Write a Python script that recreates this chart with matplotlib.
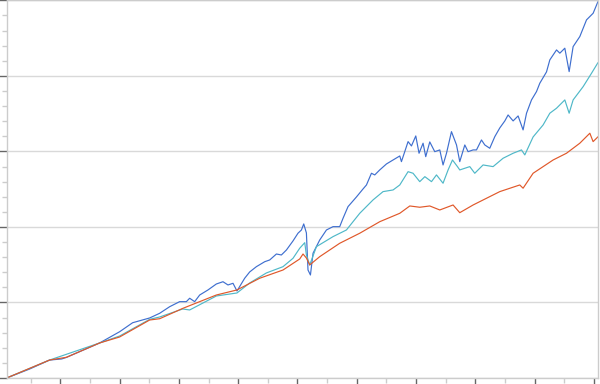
import matplotlib
matplotlib.use("Agg")
import matplotlib.pyplot as plt
from matplotlib.ticker import MultipleLocator, NullFormatter

# x in decimal years, y in chart units (gridline every 100)
blue_t = [2015.094, 2015.482, 2015.819, 2016.022, 2016.101, 2016.663, 2017.001, 2017.220,
          2017.507, 2017.676, 2017.844, 2018.013, 2018.126, 2018.182, 2018.266, 2018.351,
          2018.491, 2018.632, 2018.744, 2018.828, 2018.913, 2018.980, 2019.110, 2019.194,
          2019.307, 2019.448, 2019.532, 2019.645, 2019.729, 2019.814, 2019.925, 2020.009,
          2020.067, 2020.106, 2020.151, 2020.178, 2020.219, 2020.263, 2020.376, 2020.489,
          2020.600, 2020.713, 2020.769, 2020.853, 2020.995, 2021.106, 2021.164, 2021.248,
          2021.304, 2021.388, 2021.501, 2021.613, 2021.726, 2021.754, 2021.810, 2021.866,
          2021.923, 2021.996, 2022.051, 2022.119, 2022.164, 2022.232, 2022.316, 2022.401,
          2022.456, 2022.514, 2022.598, 2022.683, 2022.738, 2022.823, 2022.878, 2022.963,
          2023.020, 2023.104, 2023.160, 2023.244, 2023.329, 2023.413, 2023.498, 2023.553,
          2023.638, 2023.722, 2023.806, 2023.864, 2023.948, 2024.032, 2024.088, 2024.201,
          2024.257, 2024.370, 2024.426, 2024.510, 2024.583, 2024.650, 2024.763, 2024.876,
          2024.988, 2025.067]
blue_v = [0, 11.9, 23.8, 25.2, 27.2, 46.4, 61.3, 73.2,
          79.5, 85.7, 94.4, 101.1, 101.1, 105.6, 101.1, 109.9,
          116.6, 124.5, 127.5, 123.2, 125.4, 115.2, 132.1, 140.4,
          147.4, 154.0, 156.3, 164.2, 162.9, 169.5, 181.5, 191.7,
          196.0, 204.0, 192.1, 143.0, 136.4, 165.2, 182.8, 196.0,
          200.4, 200.4, 211.5, 226.9, 239.7, 250.3, 255.6, 271.1,
          268.9, 275.5, 283.4, 288.7, 294.0, 286.5, 299.7, 313.0,
          307.3, 320.5, 297.6, 310.9, 293.1, 312.6, 299.7, 302.0,
          282.1, 297.6, 326.2, 308.6, 286.5, 308.6, 299.7, 302.0,
          302.0, 315.2, 308.6, 304.2, 319.6, 331.1, 340.4, 348.3,
          340.4, 347.0, 328.5, 350.6, 368.2, 379.2, 390.3, 405.3,
          421.2, 434.4, 430.1, 436.7, 405.7, 438.8, 452.1, 474.2,
          483.0, 498.0]

teal_t = [2015.094, 2015.819, 2016.663, 2017.001, 2017.507, 2017.676, 2018.064, 2018.182,
          2018.632, 2018.980, 2019.194, 2019.476, 2019.756, 2019.925, 2020.038, 2020.123,
          2020.151, 2020.207, 2020.320, 2020.600, 2020.826, 2021.051, 2021.275, 2021.444,
          2021.613, 2021.726, 2021.866, 2021.950, 2022.063, 2022.149, 2022.261, 2022.345,
          2022.456, 2022.541, 2022.615, 2022.699, 2022.738, 2022.907, 2022.991, 2023.131,
          2023.300, 2023.469, 2023.638, 2023.779, 2023.835, 2023.975, 2024.144, 2024.257,
          2024.370, 2024.510, 2024.583, 2024.650, 2024.819, 2024.961, 2025.067]
teal_v = [0, 23.8, 46.4, 55.6, 77.7, 80.8, 91.4, 90.1,
          108.6, 112.6, 125.8, 139.1, 147.4, 158.5, 171.8, 179.2,
          162.9, 149.7, 173.9, 187.2, 196.0, 218.1, 235.8, 246.8,
          249.0, 255.6, 273.2, 271.1, 260.0, 266.6, 260.0, 268.9,
          257.9, 275.5, 288.7, 279.9, 275.5, 279.9, 271.1, 282.1,
          279.9, 291.0, 297.6, 302.0, 295.4, 319.2, 335.1, 350.6,
          357.2, 368.2, 350.6, 368.2, 385.8, 403.6, 417.3]

orange_t = [2015.094, 2015.819, 2016.101, 2016.663, 2017.0, 2017.507, 2017.676, 2018.069,
            2018.632, 2018.98, 2019.363, 2019.756, 2020.038, 2020.094, 2020.151, 2020.207,
            2020.376, 2020.713, 2021.051, 2021.389, 2021.726, 2021.895, 2022.063, 2022.232,
            2022.401, 2022.625, 2022.738, 2022.963, 2023.189, 2023.413, 2023.75, 2023.806,
            2023.975, 2024.313, 2024.538, 2024.763, 2024.932, 2024.987, 2025.067]
orange_v = [0, 23.8, 27.4, 46.4, 54.3, 76.8, 78.5, 92.3,
            109.9, 116.6, 132.1, 143.0, 157.6, 164.2, 158.9, 149.7,
            160.7, 178.4, 191.7, 207.0, 218.1, 227.8, 226.1, 227.8,
            222.5, 229.1, 218.9, 229.1, 238.0, 246.8, 255.6, 251.3,
            271.1, 288.7, 297.6, 310.9, 324.1, 313.0, 319.2]

fig = plt.figure(figsize=(6, 3.84), dpi=100)
ax = fig.add_axes([0.011, 0.0156, 0.9857, 0.9834])

ax.plot(blue_t, blue_v, color="#3f6fcf", lw=0.85)
ax.plot(teal_t, teal_v, color="#4fb8c8", lw=0.85)
ax.plot(orange_t, orange_v, color="#e0582a", lw=0.85)

ax.set_xlim(2015.094, 2025.07)
ax.set_ylim(0, 500)
ax.xaxis.set_major_locator(MultipleLocator(1))
ax.xaxis.set_minor_locator(MultipleLocator(0.5))
ax.yaxis.set_major_locator(MultipleLocator(100))
ax.yaxis.set_minor_locator(MultipleLocator(20))
ax.xaxis.set_major_formatter(NullFormatter())
ax.yaxis.set_major_formatter(NullFormatter())

ax.grid(axis="y", which="major", color="#d9d9d9", lw=1)
ax.set_axisbelow(True)
ax.tick_params(which="major", length=6, width=1, color="#666666")
ax.tick_params(which="minor", length=3.5, width=1, color="#cccccc")

for side in ["left", "bottom", "right", "top"]:
    ax.spines[side].set_color("#cccccc")
    ax.spines[side].set_linewidth(1)

fig.savefig("out.png", dpi=100)
